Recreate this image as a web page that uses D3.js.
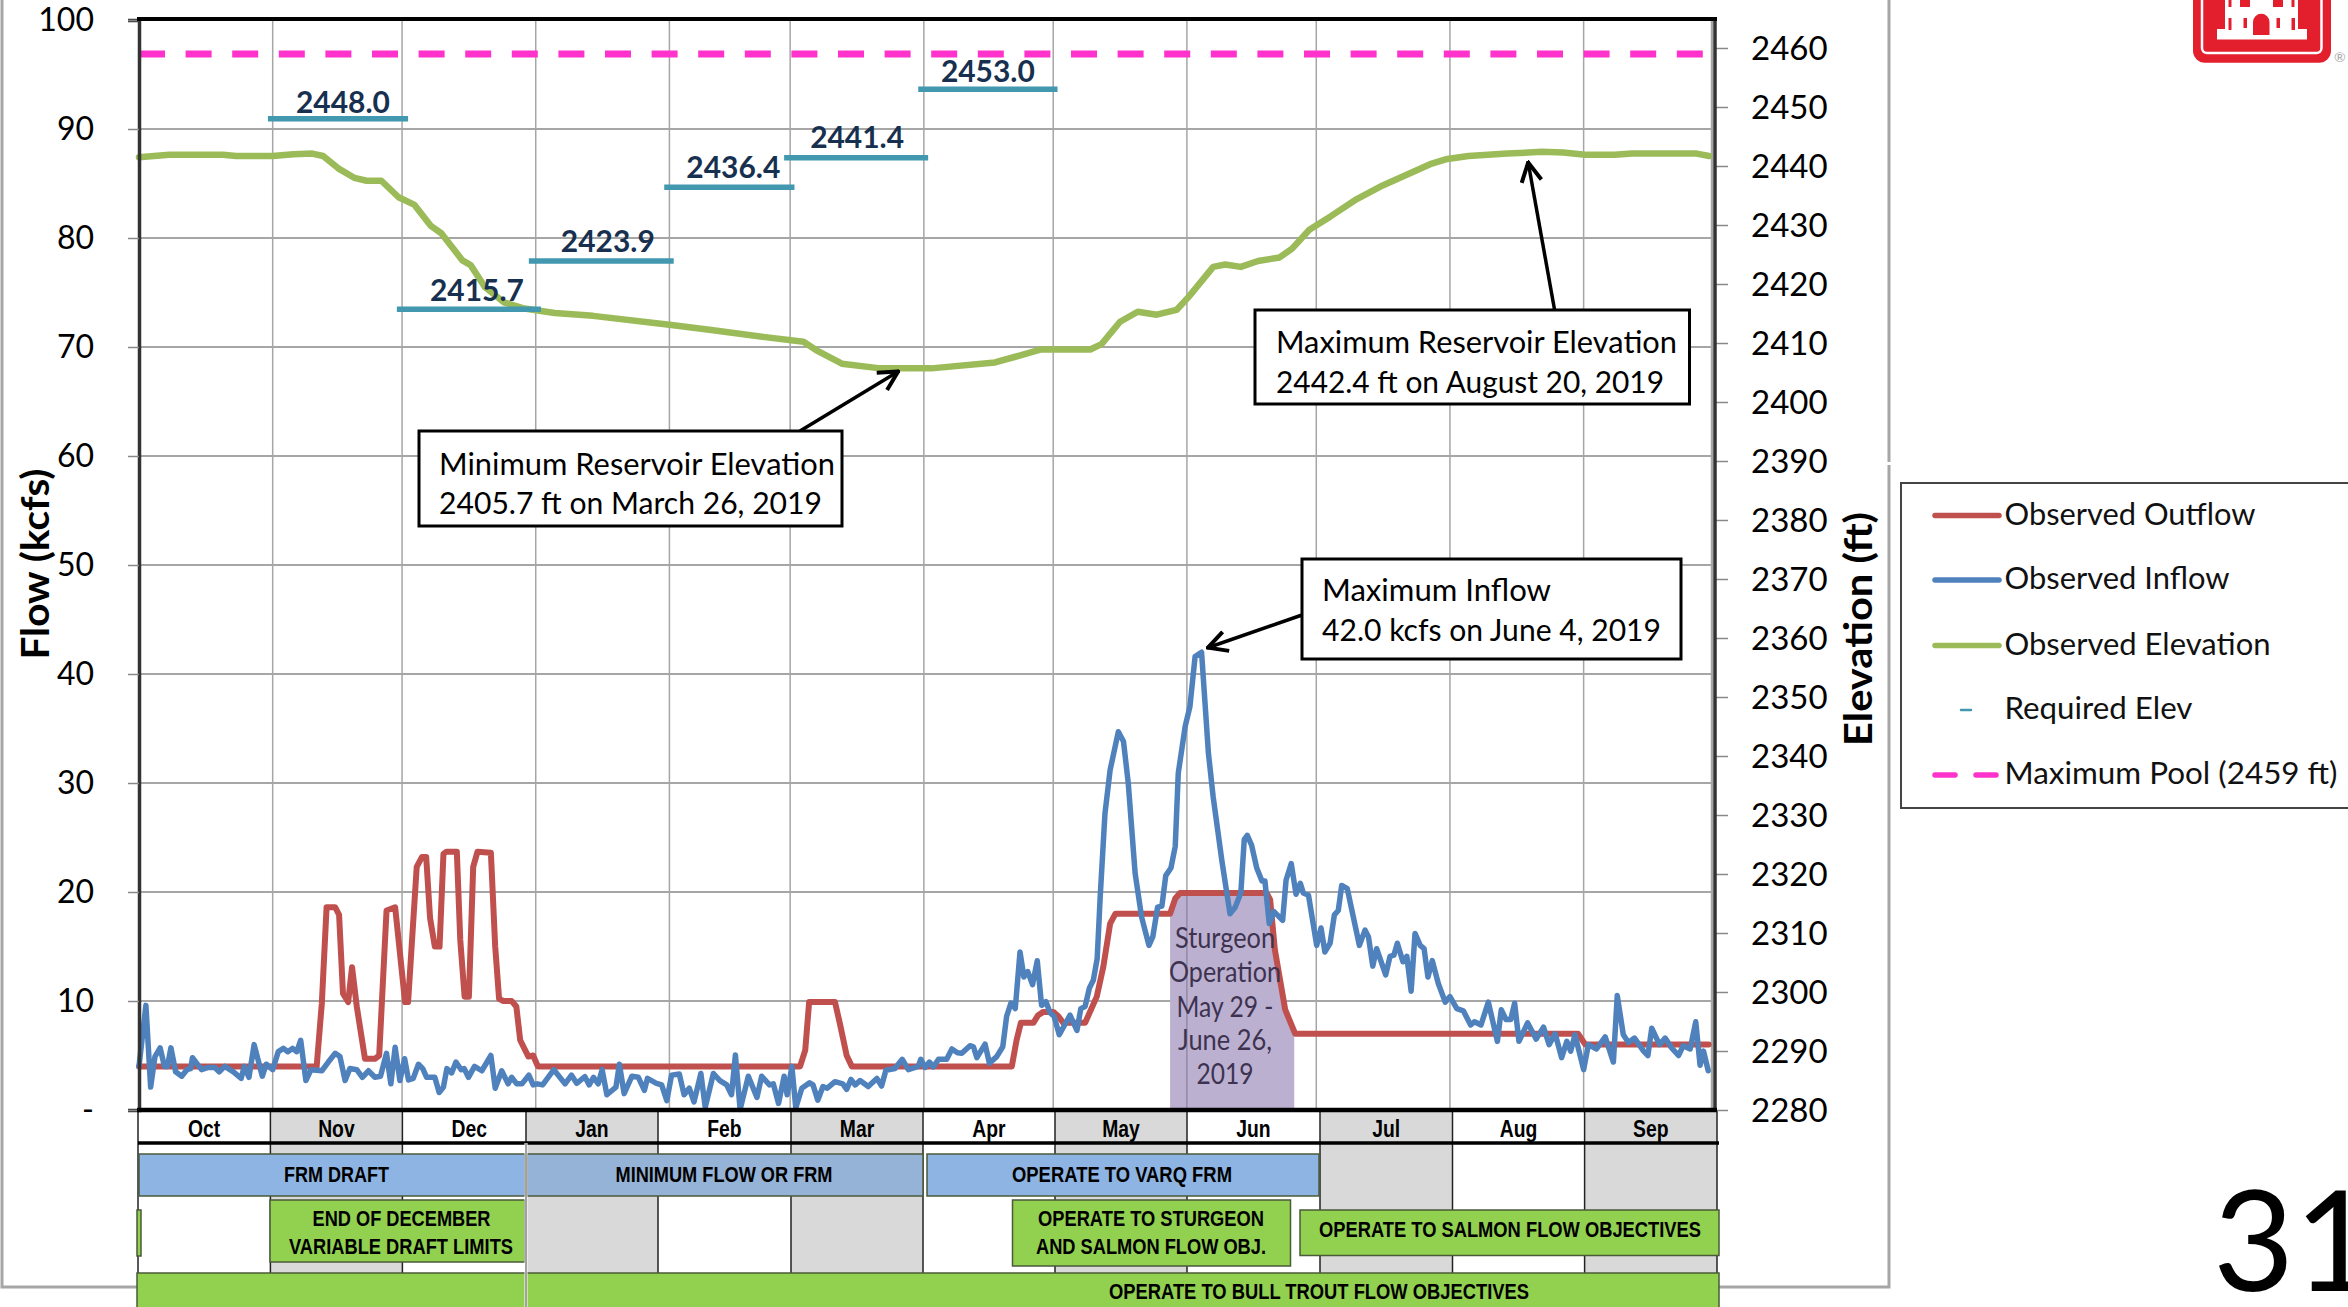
<!DOCTYPE html>
<html><head><meta charset="utf-8">
<style>html,body{margin:0;padding:0;background:#fff;overflow:hidden}svg{display:block}</style>
<script src="https://cdn.jsdelivr.net/npm/d3@7/dist/d3.min.js"></script>
</head><body><svg id="c" width="2348" height="1307"></svg>
<script>
// ---------- data (day = days since Oct 1, 2018) ----------
const months = ["Oct","Nov","Dec","Jan","Feb","Mar","Apr","May","Jun","Jul","Aug","Sep"];
const monthStartDays = [0,31,61,92,123,151,182,212,243,273,304,335,365];
const flowTicks = [0,10,20,30,40,50,60,70,80,90,100];
const elevTicks = d3.range(2280,2461,10);

const outflowDays = [0,41.2,42.4,43.5,45.5,46.4,47.3,48.5,49.4,50.5,52.4,54.7,55.7,57.4,59.4,61.7,62.4,64.4,65.6,66.6,67.5,68.6,69.7,70.6,71.3,73.7,74.5,75.5,76.5,77.5,78.5,81.6,82.6,83.5,84.5,86.4,87.5,88.4,90.3,91.4,92.5,153.3,154.5,155.4,160.6,161.4,162.6,164.1,165.3,202.4,203.5,204.5,207.4,208.5,209.7,212,213.2,214.3,219.4,222.1,223.6,225.2,226.4,239.1,240.3,241.4,261.5,262.3,263.4,265.8,268.1,333.7,335.4,364];
const outflowValues = [4,4,9.8,18.6,18.6,17.9,10.7,9.9,13.1,9.5,4.7,4.7,5,18.3,18.6,9.9,9.9,22.3,23.2,23.2,17.6,15,15,23.5,23.7,23.7,15.6,10.4,10.4,22.3,23.7,23.6,15,10.2,10,10,9.5,6.4,4.9,5,4,4,5.5,9.9,9.9,9.9,7.8,5,4,4,6.4,8,8,8.7,9,9,8.6,8,8,10.4,13.1,17.1,18,18,19.4,19.9,19.9,19.3,14.7,9.2,7,7,6,6];

const inflowDays = [0,1.6,2.7,3.7,4.9,5.9,6.6,7.4,8.5,9.9,11.1,12,12.4,14.5,16.1,17.6,18.6,19.9,21.9,23.7,24.4,25.5,26.7,28.6,29.5,31,32.3,33.5,34.5,35.6,36.6,37.5,38.7,39.9,42.4,43.9,45.5,46.6,47.8,48.9,50.5,51.8,53.2,54.7,56,57.4,58.4,59.4,60.5,61.6,62.5,63.6,64.8,65.8,66.7,68.6,69.6,70.6,71.4,72.5,73.5,74.7,75.4,76.4,77.8,79.5,81.6,82.6,84.1,85.6,86.4,87.6,88.8,90.4,91.4,92.4,93.6,96.2,98.8,100.3,101.5,103.4,104.4,105.4,106.5,107.4,108.5,110.6,111.4,112.5,114.3,115.8,117.2,117.9,120,121.2,122.4,123.5,125.3,126.4,127.6,128.7,130.3,131.3,133.2,134.7,136.3,137.4,138.3,139.4,141.3,143.3,144.4,146.2,147.1,148.3,149.6,150.3,151.4,152.3,153.7,155.5,156.3,157.4,158.6,159.6,161.4,163.2,164.1,165.1,166.1,167.2,169.1,171.1,172.2,173.2,175.3,177,178.4,180.7,181.3,182.3,183.3,184.2,185.4,187.3,188.5,189.8,190.8,192.7,193.5,194.3,196.2,197.2,198.9,200.3,201.2,202.2,203.2,204.3,205.2,206.1,207.2,208.3,209.3,210.3,211.3,212.2,213.4,215.9,217.5,218.4,219.4,220.4,221.3,222.2,222.9,224,225.2,227.1,228.3,229.4,231,232.5,234.2,235.1,236.2,237.2,238.1,239.3,240.3,241,242.6,243.7,244.9,246.4,248,249.1,251.1,253,254.2,255.5,256.3,257,258,259.2,260.4,261.1,262.1,263.2,265.2,266,267.2,268.3,269.3,270,271.2,273.1,274.1,275,276.2,277.2,278.1,278.9,280.2,281.6,283,284.3,285.1,286.1,287,289.1,290.1,291,291.8,293.1,294,295,295.9,297.1,298,298.9,299.9,301.3,302.9,304,305.6,307.1,308.8,309.7,311.2,312.9,315,315.9,317,318.1,319,320,322,324,325.7,327,328.4,329.9,331.1,332,333,335,336.1,338,340,341.9,342.8,344.2,345.4,346.8,348.9,349.9,350.8,352.6,353.9,355.4,357,358.1,359.7,361,362,362.8,363.9];
const inflowValues = [4,9.6,2.1,4.9,5.7,4,4,5.7,3.5,3.1,3.7,3.8,4.8,3.7,3.9,3.9,3.5,4,3.5,2.9,4,3,6,3.1,4.2,3.7,5.35,5.65,5.35,5.65,5.35,6.4,2.7,3.7,3.6,4.4,5.2,4.9,2.7,3.8,3.7,3,3.6,3,3.1,5.2,2.4,5.75,2.7,4.7,2.75,2.9,4.2,3.8,3,3,1.6,2.1,3.8,3.4,4.4,3.7,3.8,3,4,3.6,5,2,3.6,2.4,3,2.4,2.4,3.2,2.3,2.4,2.3,3.7,2.4,3.2,2.45,3.06,2.3,3,2.4,3.7,1.4,2.1,4.2,1.5,3.1,3,1.8,2.9,2.45,2.3,0.85,3.2,3.3,1.4,2,0.75,3.35,0.25,3.35,2.7,2.3,1.4,5.05,0.05,3.1,1.15,3.1,2.3,2.4,0.6,3.1,1.4,4,0.2,2,2.5,2.3,0.9,2.15,2,2.6,2.4,1.9,2.8,2.3,2.7,2.15,2.9,2.2,3.65,3.8,4.65,3.7,4,4.65,3.9,4.4,3.95,4.65,4.65,5.6,5.25,5.2,5.9,5.8,4.8,6.05,4.3,4.9,5.8,8.6,9.8,9.3,14.5,12.2,12.7,11.5,13.7,9.6,9.95,8.9,8.6,6.9,8.7,7.3,9.3,9.5,11.2,11.9,13.9,19.6,27.2,31.2,34.7,33.8,30,21.7,17.7,15.1,15.9,18.6,18.7,21.5,22.2,24.2,30.9,35.2,37,41.6,42,32.7,28.7,22.9,18,18.6,19.9,24.8,25.2,24.3,22.2,21,21,17.1,18.2,17.4,21.1,22.6,19.8,20.8,19.9,19.7,15.1,16.7,14.5,15.3,17.9,18.3,20.6,20.3,17.7,15.1,16.5,15.9,13.2,14.8,12.4,14.1,14.2,15.3,13.6,14.1,10.9,16.2,15.1,14.8,12.2,13.7,11.6,9.9,10.4,9.3,9.1,7.8,8.1,7.8,9.9,6.3,9.2,8.3,8.3,9.8,6.3,8,6.5,7.6,6,7,4.8,6.3,5.4,6.9,3.7,6,5.6,6.7,4.4,10.5,6.9,6.2,6.6,5.4,5,7.5,6,6.6,5.7,5,5.9,5.6,8.1,4.1,5.4,3.6];

const elevDays = [0,7,19.5,22.5,31,35.8,40.2,42.7,46.2,49.9,52.8,56.2,60.2,63.9,67.6,70.1,75,76.9,80.2,84.6,89,96.4,105.3,123,132.7,145.2,154.1,157,163,171.9,183.7,198.5,209.2,220.6,223.2,227.5,231.6,236,240.6,243.5,249.1,251.9,255.5,259.5,264.5,267.4,271.4,276.4,282.4,288.4,299.4,303.4,308.3,317.3,325.3,330.3,335.3,342.2,346.2,361.2,364.1];
const elevValues = [2441.5,2441.9,2441.9,2441.7,2441.7,2442,2442.1,2441.7,2439.6,2438,2437.5,2437.5,2434.7,2433.4,2429.9,2428.6,2424,2423.2,2419.5,2416.9,2415.9,2415.1,2414.6,2413.1,2412.2,2411,2410.2,2408.8,2406.5,2405.7,2405.7,2406.7,2408.9,2408.9,2409.8,2413.6,2415.3,2414.8,2415.6,2417.9,2422.9,2423.3,2422.9,2423.9,2424.5,2426,2429.2,2431.5,2434.4,2436.7,2440.3,2441.2,2441.7,2442.1,2442.4,2442.3,2441.9,2441.9,2442.1,2442.1,2441.7];

const requiredLabels = ["2448.0","2415.7","2423.9","2436.4","2441.4","2453.0"];
const requiredValues = [2448.0,2415.7,2423.9,2436.4,2441.4,2453.0];
const requiredStart = [29.9,59.8,90.4,121.8,149.6,180.7];
const requiredEnd = [62.4,93.2,124,152,183,213];
const maxPool = 2459;
const sturgeonStart = 239.1, sturgeonEnd = 267.9;
const legendNames = ["Observed Outflow","Observed Inflow","Observed Elevation","Required Elev","Maximum Pool (2459 ft)"];

// ---------- styles ----------
const C = {out:"#C0504D",inf:"#4F81BD",elev:"#9BBB59",req:"#4198AF",pool:"#FF33CC",grid:"#A6A6A6",band:"#D9D9D9",
  blue:"#8EB4E3",blue2:"#95B3D7",green:"#92D050",purple:"#BCB0D0",navy:"#17304F"};
const FONT="Lato, Carlito, sans-serif", NARROW="'Liberation Sans', Arial, sans-serif";

const svg=d3.select("#c");
const x=d3.scaleLinear().domain([0,365]).range([139,1713]);
const yF=d3.scaleLinear().domain([0,100]).range([1110,20]);
const yE=d3.scaleLinear().domain([2280,2460]).range([1110,48]);

function label(g,t,px,py,size,width,o={}){
  const s=g.append("text").attr("x",px).attr("y",py).attr("dy","0.35em").text(t)
   .attr("font-family",o.family||FONT).attr("font-size",size).attr("font-weight",o.weight||400)
   .attr("fill",o.fill||"#000").attr("text-anchor",o.anchor||"start");
  if(width) s.attr("textLength",width).attr("lengthAdjust","spacingAndGlyphs");
  if(o.rot) s.attr("transform",`rotate(${o.rot} ${px} ${py})`);
  return s;
}
function pairs(ds,vs){return ds.map((d,i)=>[d,vs[i]]);}

// page frame
const frame=svg.append("g").attr("stroke","#A6A6A6").attr("stroke-width",3).attr("fill","none");
frame.append("path").attr("d","M2,0V1287H138M1719,1287H1889V465M1889,462V0");

// lower table
const tbl=svg.append("g");
const colEdge=[138,270.4,402.4,526,658,791,923,1055,1187,1320,1452.5,1584.6,1717];
months.forEach((m,i)=>{
  if(i%2==1) tbl.append("rect").attr("x",colEdge[i]).attr("y",1111).attr("width",colEdge[i+1]-colEdge[i]).attr("height",162).attr("fill",C.band);
});
colEdge.forEach(e=>tbl.append("line").attr("x1",e).attr("x2",e).attr("y1",1111).attr("y2",1273).attr("stroke","#222").attr("stroke-width",1.5));
months.forEach((m,i)=>{
  const t=label(tbl,m,(colEdge[i]+colEdge[i+1])/2+(m=="Dec"?5:0),1128.5,23,null,{anchor:"middle",family:NARROW,weight:700});
  t.attr("textLength",t.node().getComputedTextLength()*0.84).attr("lengthAdjust","spacingAndGlyphs");
});
tbl.append("line").attr("x1",138).attr("x2",1719).attr("y1",1143).attr("y2",1143).attr("stroke","#000").attr("stroke-width",3.5);

const bars=[
 [139,525,1154,1196,C.blue],[527,923,1154,1196,C.blue2],[927,1319,1154,1196,C.blue],
 [137,141,1210,1256,C.green],[270,525,1200,1262,C.green],[1012.5,1290.5,1200,1266,C.green],[1300,1719,1210,1255.5,C.green],
 [137,1719,1273,1310,C.green]];
bars.forEach(b=>tbl.append("rect").attr("x",b[0]).attr("y",b[2]).attr("width",b[1]-b[0]).attr("height",b[3]-b[2])
  .attr("fill",b[4]).attr("stroke","#4a5a3a").attr("stroke-width",1.5));
tbl.append("line").attr("x1",526).attr("x2",526).attr("y1",1143).attr("y2",1307).attr("stroke","#fff").attr("stroke-width",3);
tbl.append("line").attr("x1",526).attr("x2",526).attr("y1",1143).attr("y2",1307).attr("stroke","#444").attr("stroke-width",1);
const barTexts=[["FRM DRAFT",336.5,1174,105],["MINIMUM FLOW OR FRM",724,1174,217],["OPERATE TO VARQ FRM",1122,1174,220],
 ["END OF DECEMBER",401.5,1218.5,178],["VARIABLE DRAFT LIMITS",401,1246.5,224],
 ["OPERATE TO STURGEON",1151,1218.5,226],["AND SALMON FLOW OBJ.",1151,1246.5,230],
 ["OPERATE TO SALMON FLOW OBJECTIVES",1510,1229,382],["OPERATE TO BULL TROUT FLOW OBJECTIVES",1319,1291.5,420]];
barTexts.forEach(t=>label(tbl,t[0],t[1],t[2],21.5,t[3],{anchor:"middle",family:NARROW,weight:700}));

// gridlines
const grid=svg.append("g").attr("stroke",C.grid);
flowTicks.slice(1,10).forEach(v=>grid.append("line").attr("x1",x(0)).attr("x2",x(365)).attr("y1",yF(v)).attr("y2",yF(v)).attr("stroke-width",2));
monthStartDays.slice(1,12).forEach(d=>grid.append("line").attr("x1",x(d)).attr("x2",x(d)).attr("y1",yF(100)).attr("y2",yF(0)).attr("stroke-width",1.5));
grid.append("line").attr("x1",x(365)-1).attr("x2",x(365)-1).attr("y1",yF(100)).attr("y2",yF(0)).attr("stroke-width",2.5);

// sturgeon area (under the outflow line)
const stDays=[sturgeonStart].concat(outflowDays.filter(d=>d>sturgeonStart&&d<sturgeonEnd),[sturgeonEnd]);
const outAt=d3.scaleLinear().domain(outflowDays).range(outflowValues);
svg.append("path").datum(stDays).attr("fill",C.purple)
 .attr("d",d3.area().x(d=>x(d)).y0(yF(0)).y1(d=>yF(outAt(d))));
svg.append("line").attr("x1",x(243)).attr("x2",x(243)).attr("y1",yF(20)).attr("y2",yF(0)).attr("stroke","#8a7f9c").attr("stroke-width",1.2);

// series
const lineF=d3.line().x(d=>x(d[0])).y(d=>yF(d[1]));
const lineE=d3.line().x(d=>x(d[0])).y(d=>yE(d[1]));
const series=svg.append("g").attr("fill","none").attr("stroke-linejoin","round").attr("stroke-linecap","round");
series.append("path").attr("d",lineF(pairs(outflowDays,outflowValues))).attr("stroke",C.out).attr("stroke-width",6);
series.append("path").attr("d",lineF(pairs(inflowDays,inflowValues))).attr("stroke",C.inf).attr("stroke-width",5.5);
series.append("path").attr("d",lineE(pairs(elevDays,elevValues))).attr("stroke",C.elev).attr("stroke-width",6.5);
svg.append("line").attr("x1",x(0)).attr("x2",x(364)).attr("y1",yE(maxPool)).attr("y2",yE(maxPool))
 .attr("stroke",C.pool).attr("stroke-width",7).attr("stroke-dasharray","26 20.6");

// required elevation marks
const reqG=svg.append("g");
requiredValues.forEach((v,i)=>{
  reqG.append("line").attr("x1",x(requiredStart[i])).attr("x2",x(requiredEnd[i])).attr("y1",yE(v)).attr("y2",yE(v))
    .attr("stroke",C.req).attr("stroke-width",5.5);
  label(reqG,requiredLabels[i],(x(requiredStart[i])+x(requiredEnd[i]))/2+[5,8,6.5,4,1,0][i],yE(v)-[16.5,19,19,20,20,18][i],30,94,{anchor:"middle",weight:700,fill:C.navy});
});

// sturgeon text
[["Sturgeon",938,100],["Operation",972,112],["May 29 -",1006.5,97],["June 26,",1040,94],["2019",1074,57]].forEach(t=>
  label(svg,t[0],1225,t[1],29,t[2],{anchor:"middle",fill:"#3D3350"}));

// axes
const axL=svg.append("g").attr("transform","translate(139,0)").call(d3.axisLeft(yF).tickValues(flowTicks).tickSize(11)
  .tickFormat(d=>d===0?"-":d));
axL.select(".domain").attr("stroke","#333").attr("stroke-width",3.5);
axL.selectAll(".tick line").attr("stroke","#888").attr("stroke-width",1.5);
axL.selectAll("text").attr("font-family",FONT).attr("font-size",32).attr("fill","#000").attr("x",-45);
const axR=svg.append("g").attr("transform","translate(1715,0)").call(d3.axisRight(yE).tickValues(elevTicks).tickSize(13).tickFormat(d3.format("d")));
axR.select(".domain").remove();
axR.selectAll(".tick line").attr("stroke","#888").attr("stroke-width",1.5);
axR.selectAll("text").attr("font-family",FONT).attr("font-size",33).attr("fill","#000").attr("x",36).attr("y",0.5);
svg.append("line").attr("x1",1715).attr("x2",1715).attr("y1",18).attr("y2",1112).attr("stroke","#333").attr("stroke-width",3.5);
svg.append("line").attr("x1",137).attr("x2",1717).attr("y1",19).attr("y2",19).attr("stroke","#000").attr("stroke-width",4);
svg.append("line").attr("x1",137).attr("x2",1717).attr("y1",1110).attr("y2",1110).attr("stroke","#000").attr("stroke-width",4.5);

// axis titles
label(svg,"Flow (kcfs)",35,564,39,191,{anchor:"middle",weight:700,rot:-90});
label(svg,"Elevation (ft)",1858,629,39,234,{anchor:"middle",weight:700,rot:-90});

// annotations
const defs=svg.append("defs");
defs.append("marker").attr("id","ah").attr("viewBox","0 0 24 24").attr("refX",23).attr("refY",12)
 .attr("markerWidth",24).attr("markerHeight",24).attr("markerUnits","userSpaceOnUse").attr("orient","auto")
 .append("path").attr("d","M3,2L22,12L3,22").attr("fill","none").attr("stroke","#000").attr("stroke-width",4);
[[800,431,899,371],[1554.6,310,1528,161.5],[1302,615,1207,648]].forEach(a=>
 svg.append("line").attr("x1",a[0]).attr("y1",a[1]).attr("x2",a[2]).attr("y2",a[3]).attr("stroke","#000").attr("stroke-width",3.5).attr("marker-end","url(#ah)"));
const notes=[
 {b:[419,431,842,526],tx:439,l:[["Minimum Reservoir Elevation",464,396],["2405.7 ft on March 26, 2019",503,383]]},
 {b:[1255,310,1689.5,404],tx:1276,l:[["Maximum Reservoir Elevation",342.5,401],["2442.4 ft on August 20, 2019",382.5,388]]},
 {b:[1302,559,1681,659],tx:1322,l:[["Maximum Inflow",590,229],["42.0 kcfs on June 4, 2019",630,339]]}];
notes.forEach(n=>{
  svg.append("rect").attr("x",n.b[0]).attr("y",n.b[1]).attr("width",n.b[2]-n.b[0]).attr("height",n.b[3]-n.b[1])
    .attr("fill","#fff").attr("stroke","#000").attr("stroke-width",3);
  n.l.forEach(t=>label(svg,t[0],n.tx,t[1],31,t[2]));
});

// legend
const leg=svg.append("g");
leg.append("rect").attr("x",1901).attr("y",483).attr("width",460).attr("height",325).attr("fill","#fff").attr("stroke","#444").attr("stroke-width",2);
const legY=[515.5,580,645.5,710,775], legW=[251,225,266,188,333];
const legC=[C.out,C.inf,C.elev,C.req,C.pool];
legendNames.forEach((n,i)=>{
  const l=leg.append("line").attr("y1",legY[i]).attr("y2",legY[i]).attr("stroke",legC[i]).attr("stroke-linecap","round")
    .attr("x1",i==3?1961:1935).attr("x2",i==3?1971:1999).attr("stroke-width",i==3?2.5:5.5);
  if(i==4) l.attr("stroke-dasharray","20 21");
  label(leg,n,2004.5,legY[i]-1.5,31,legW[i],{fill:"#111"});
});

// logo
const logo=svg.append("g");
logo.append("rect").attr("x",2193).attr("y",-40).attr("width",138).attr("height",102.7).attr("rx",12).attr("fill","#E31F2E");
logo.append("rect").attr("x",2202).attr("y",-40).attr("width",119.5).attr("height",93).attr("rx",5).attr("fill","none").attr("stroke","#fff").attr("stroke-width",2.5);
logo.append("path").attr("d","M2217,39.5V29H2225V-2H2298V29H2307V39.5Z").attr("fill","#fff");
logo.append("path").attr("fill","#E31F2E").attr("d","M2228.5,-2h3v9h-3zM2240,-2h10v9h-10zM2273,-2h10v9h-10zM2291.5,-2h3v9h-3zM2228.5,18h3v12h-3zM2243.5,18h3.5v10h-3.5zM2276.5,18h3.5v10h-3.5zM2291.5,18h3.5v12h-3.5zM2253,35V22a8.2,8.2 0 0 1 16.5,0V35Z");
svg.append("text").attr("x",2334).attr("y",62).text("®").attr("font-family",FONT).attr("font-size",14).attr("fill","#aaa");

// slide number
svg.append("text").attr("x",2213).attr("y",1291).text("31").attr("font-family",FONT).attr("font-size",140).attr("fill","#000");
</script></body></html>
